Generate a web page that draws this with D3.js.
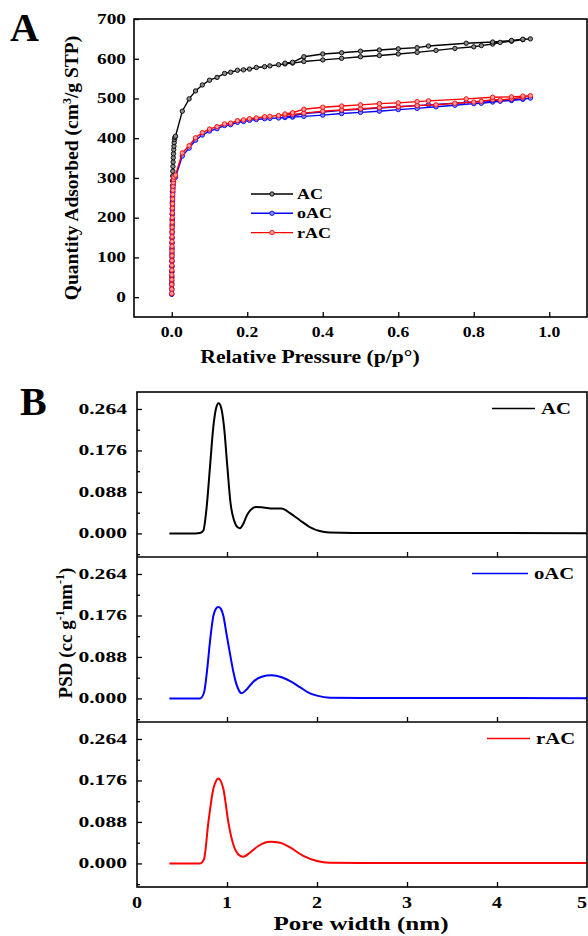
<!DOCTYPE html>
<html>
<head>
<meta charset="utf-8">
<script src="https://cdn.jsdelivr.net/npm/d3@7"></script>
<style>
  body { margin: 0; background: #fff; }
  text { font-family: "Liberation Serif", "Times New Roman", serif; font-weight: bold; fill: #000; }
</style>
</head>
<body>
<div id="chart"></div>
<script>
// ---- A: N2 isotherms, [relative pressure, quantity adsorbed] ----
var acLow = [[0.0000,8],[0.0001,21],[0.0002,35],[0.0002,49],[0.0003,63],[0.0004,78],[0.0004,92],[0.0005,107],[0.0006,121],
  [0.0007,136],[0.0008,150],[0.0009,165],[0.0010,180],[0.0011,194],[0.0012,209],[0.0013,223],[0.0014,238],[0.0016,252],
  [0.0018,266],[0.0020,280],[0.0022,293],[0.0025,305],[0.0028,317],[0.0032,329],[0.0036,340],[0.0041,351],[0.0046,361],
  [0.0052,371],[0.0058,380],[0.0065,389],[0.0073,397],[0.0082,402]];
var acAds = [[0.010,405],[0.028,468],[0.046,499],[0.063,519],[0.081,534],[0.100,546],[0.120,553],[0.140,563],[0.156,566],
  [0.174,571],[0.190,572],[0.206,574],[0.224,578],[0.246,580],[0.260,582],[0.283,585],[0.300,587],[0.320,589],[0.350,593],
  [0.400,597],[0.450,601],[0.500,605],[0.550,608],[0.600,612],[0.650,616],[0.700,621],[0.750,626],[0.800,630],[0.820,633],
  [0.850,637],[0.870,641],[0.900,644],[0.930,648],[0.950,650]];
var acDes = [[0.930,649],[0.900,646],[0.850,642],[0.780,639],[0.680,632],[0.650,628],[0.600,625],[0.550,622],[0.500,619],
  [0.450,615],[0.400,612],[0.350,605],[0.320,591],[0.300,589]];

var oacLow = [[0.0000,7],[0.0001,18],[0.0001,30],[0.0002,41],[0.0003,53],[0.0003,65],[0.0004,77],[0.0005,89],[0.0006,100],
  [0.0007,112],[0.0007,124],[0.0008,136],[0.0009,148],[0.0010,160],[0.0011,172],[0.0012,184],[0.0014,196],[0.0016,208],
  [0.0018,219],[0.0020,231],[0.0023,242],[0.0026,253],[0.0030,264],[0.0034,274],[0.0040,283],[0.0047,291],[0.0056,297]];
var oacAds = [[0.010,302],[0.028,355],[0.046,375],[0.063,395],[0.081,408],[0.100,418],[0.120,424],[0.140,432],[0.156,434],
  [0.174,440],[0.190,442],[0.206,445],[0.224,447],[0.246,449],[0.260,450],[0.283,451],[0.300,452],[0.320,453],[0.350,455],
  [0.400,458],[0.450,462],[0.500,465],[0.550,468],[0.600,472],[0.650,475],[0.700,479],[0.750,483],[0.800,487],[0.820,488],
  [0.850,491],[0.870,493],[0.900,495],[0.930,498],[0.950,501]];
var oacDes = [[0.930,499],[0.900,497],[0.850,495],[0.780,490],[0.680,484],[0.650,482],[0.600,479],[0.550,476],[0.500,473],
  [0.450,470],[0.400,466],[0.350,462],[0.320,456],[0.300,454]];

var racLow = [[0.0000,9],[0.0001,20],[0.0001,32],[0.0002,44],[0.0003,56],[0.0003,68],[0.0004,80],[0.0005,92],[0.0006,104],
  [0.0007,116],[0.0007,128],[0.0008,140],[0.0009,152],[0.0010,164],[0.0011,176],[0.0012,188],[0.0014,200],[0.0016,212],
  [0.0018,224],[0.0020,235],[0.0023,247],[0.0026,258],[0.0030,269],[0.0034,279],[0.0040,288],[0.0047,296],[0.0056,302]];
var racAds = [[0.010,307],[0.028,363],[0.046,381],[0.063,401],[0.081,414],[0.100,423],[0.120,429],[0.140,436],[0.156,438],
  [0.174,444],[0.190,446],[0.206,449],[0.224,451],[0.246,454],[0.260,455],[0.283,457],[0.300,459],[0.320,460],[0.350,463],
  [0.400,468],[0.450,471],[0.500,474],[0.550,477],[0.600,479],[0.650,482],[0.700,484],[0.750,488],[0.800,491],[0.820,493],
  [0.850,497],[0.870,496],[0.900,499],[0.930,503],[0.950,507]];
var racDes = [[0.930,506],[0.900,504],[0.850,503],[0.780,499],[0.680,494],[0.650,492],[0.600,489],[0.550,487],[0.500,484],
  [0.450,481],[0.400,478],[0.350,473],[0.320,464],[0.300,461]];

var isoNames = ['AC', 'oAC', 'rAC'];
var isoXTicks = [0, 0.2, 0.4, 0.6, 0.8, 1.0];
var isoYTicks = [0, 100, 200, 300, 400, 500, 600, 700];

// ---- B: pore size distribution, [pore width (nm), PSD] ----
var acPSD = [[0.36,0],[0.50,0],[0.65,0],[0.70,0.001],[0.737,0.006],[0.774,0.056],[0.811,0.141],[0.848,0.226],[0.878,0.265],
  [0.907,0.276],[0.937,0.265],[0.967,0.226],[1.004,0.141],[1.04,0.063],[1.078,0.028],[1.115,0.0135],[1.144,0.011],
  [1.18,0.02],[1.22,0.038],[1.263,0.050],[1.322,0.056],[1.404,0.055],[1.515,0.053],[1.607,0.053],[1.70,0.043],
  [1.81,0.028],[1.92,0.0135],[2.03,0.005],[2.14,0.002],[2.4,0.001],[3.0,0.001],[4.0,0.001],[5.0,0.0005]];
var oacPSD = [[0.36,0],[0.50,0],[0.70,0],[0.744,0.012],[0.78,0.062],[0.81,0.119],[0.848,0.175],[0.876,0.19],[0.904,0.194],
  [0.932,0.19],[0.96,0.175],[0.996,0.135],[1.033,0.095],[1.07,0.057],[1.10,0.033],[1.13,0.018],[1.163,0.011],[1.218,0.019],
  [1.29,0.035],[1.385,0.046],[1.496,0.049],[1.607,0.045],[1.718,0.035],[1.81,0.024],[1.90,0.013],[2.0,0.006],
  [2.144,0.0015],[2.5,0.001],[3.5,0.001],[5.0,0.0005]];
var racPSD = [[0.36,0],[0.50,0],[0.70,0],[0.744,0.0085],[0.793,0.087],[0.848,0.158],[0.876,0.174],[0.904,0.180],
  [0.932,0.174],[0.96,0.158],[1.015,0.087],[1.07,0.040],[1.126,0.019],[1.18,0.014],[1.256,0.023],[1.348,0.037],
  [1.478,0.046],[1.59,0.044],[1.70,0.034],[1.848,0.016],[2.0,0.005],[2.14,0.0015],[2.5,0.001],[3.5,0.001],[5.0,0.0008]];

var psdXTicks = [0, 1, 2, 3, 4, 5];
var psdYTicks = [0, 0.088, 0.176, 0.264];
var psdYMinor = [-0.044, 0.044, 0.132, 0.220];

// ---- drawing ----
var svg = d3.select('#chart').append('svg')
    .attr('width', 588)
    .attr('height', 936);

// text squeezed/stretched horizontally like the figure
function label(parent, x, y, s, size, sx, anchor) {
  return parent.append('text')
      .attr('transform', 'translate(' + x + ',' + y + ') scale(' + sx + ',1)')
      .attr('text-anchor', anchor)
      .style('font-size', size + 'px')
      .text(s);
}

function tickStyle(g) {
  g.select('.domain').remove();
  g.selectAll('line').attr('stroke', '#000').attr('stroke-width', 1.3);
}

// ===== panel A =====
var aL = 134, aR = 587, aT = 19, aB = 317;
var ax = d3.scaleLinear().domain([-0.1, 1.1]).range([aL, aR]);
var ay = d3.scaleLinear().domain([-50, 700]).range([aB, aT]);

svg.append('g').attr('transform', 'translate(0,' + aB + ')')
    .call(d3.axisBottom(ax).tickValues(isoXTicks).tickSize(-5).tickSizeOuter(0).tickFormat(''))
    .call(tickStyle);
svg.append('g').attr('transform', 'translate(' + aL + ',0)')
    .call(d3.axisLeft(ay).tickValues(isoYTicks).tickSize(-5).tickSizeOuter(0).tickFormat(''))
    .call(tickStyle);

isoXTicks.forEach(function(v) { label(svg, ax(v), 337, d3.format('.1f')(v), 14, 1.26, 'middle'); });
isoYTicks.forEach(function(v) { label(svg, 126, ay(v) + 4.8, String(v), 14, 1.38, 'end'); });

var isoSeries = [
  { name: isoNames[0], color: '#000', fill: '#8a8a8a', pts: acLow.concat(acAds, acDes) },
  { name: isoNames[1], color: '#0000ff', fill: '#8c8cff', pts: oacLow.concat(oacAds, oacDes) },
  { name: isoNames[2], color: '#ff0000', fill: '#ffa0a0', pts: racLow.concat(racAds, racDes) }
];

var isoLine = d3.line().x(function(d) { return ax(d[0]); }).y(function(d) { return ay(d[1]); });

isoSeries.forEach(function(s) {
  var g = svg.append('g');
  g.append('path').attr('d', isoLine(s.pts))
      .attr('fill', 'none').attr('stroke', s.color).attr('stroke-width', 1.4);
  g.selectAll('circle').data(s.pts).enter().append('circle')
      .attr('cx', function(d) { return ax(d[0]); })
      .attr('cy', function(d) { return ay(d[1]); })
      .attr('r', 2.2)
      .attr('fill', s.fill).attr('stroke', s.color).attr('stroke-width', 0.9);
});

svg.append('rect').attr('x', aL).attr('y', aT).attr('width', aR - aL).attr('height', aB - aT)
    .attr('fill', 'none').attr('stroke', '#000').attr('stroke-width', 1.6);

// legend A
isoSeries.forEach(function(s, i) {
  var ly = 194 + i * 19.3;
  svg.append('line').attr('x1', 251).attr('x2', 293).attr('y1', ly).attr('y2', ly)
      .attr('stroke', s.color).attr('stroke-width', 1.4);
  svg.append('circle').attr('cx', 272).attr('cy', ly).attr('r', 2.2)
      .attr('fill', s.fill).attr('stroke', s.color).attr('stroke-width', 0.9);
  label(svg, 297, ly + 5, s.name, 15, 1.2, 'start');
});

var yTitleA = svg.append('text')
    .attr('transform', 'translate(78,168) rotate(-90)')
    .attr('text-anchor', 'middle')
    .style('font-size', '19.5px');
yTitleA.append('tspan').text('Quantity Adsorbed (cm');
yTitleA.append('tspan').attr('dy', -7).style('font-size', '12px').text('3');
yTitleA.append('tspan').attr('dy', 7).text('/g STP)');

label(svg, 310, 363, 'Relative Pressure (p/p\u00B0)', 19, 1.14, 'middle');
label(svg, 10, 41, 'A', 40, 1, 'start');

// ===== panel B =====
var bL = 137, bR = 587, bT = 392, bH = 165;
var bx = d3.scaleLinear().domain([0, 5]).range([bL, bR]);

var psdSeries = [
  { name: isoNames[0], color: '#000', pts: acPSD, legX: 492, legEnd: 535 },
  { name: isoNames[1], color: '#0000ff', pts: oacPSD, legX: 472, legEnd: 528 },
  { name: isoNames[2], color: '#ff0000', pts: racPSD, legX: 487, legEnd: 530 }
];

psdSeries.forEach(function(s, i) {
  var top = bT + i * bH;
  var by = d3.scaleLinear().domain([-0.05, 0.30]).range([top + bH, top]);
  var g = svg.append('g');

  g.append('g').attr('transform', 'translate(0,' + (top + bH) + ')')
      .call(d3.axisBottom(bx).tickValues([1, 2, 3, 4]).tickSize(-5).tickSizeOuter(0).tickFormat(''))
      .call(tickStyle);
  g.append('g').attr('transform', 'translate(' + bL + ',0)')
      .call(d3.axisLeft(by).tickValues(psdYTicks).tickSize(-5).tickSizeOuter(0).tickFormat(''))
      .call(tickStyle);
  g.append('g').attr('transform', 'translate(' + bL + ',0)')
      .call(d3.axisLeft(by).tickValues(psdYMinor).tickSize(-3).tickSizeOuter(0).tickFormat(''))
      .call(tickStyle);

  psdYTicks.forEach(function(v) { label(g, 127, by(v) + 5, d3.format('.3f')(v), 15, 1.44, 'end'); });

  var line = d3.line().curve(d3.curveMonotoneX)
      .x(function(d) { return bx(d[0]); })
      .y(function(d) { return by(d[1]); });
  g.append('path').attr('d', line(s.pts))
      .attr('fill', 'none').attr('stroke', s.color).attr('stroke-width', 2);

  var ly = top + 16.5;
  g.append('line').attr('x1', s.legX).attr('x2', s.legEnd).attr('y1', ly).attr('y2', ly)
      .attr('stroke', s.color).attr('stroke-width', 1.6);
  label(g, s.legEnd + 6, ly + 5.7, s.name, 17, 1.22, 'start');

  if (i > 0) {
    g.append('line').attr('x1', bL).attr('x2', bR).attr('y1', top).attr('y2', top)
        .attr('stroke', '#000').attr('stroke-width', 1.6);
  }
});

svg.append('rect').attr('x', bL).attr('y', bT).attr('width', bR - bL).attr('height', bH * 3)
    .attr('fill', 'none').attr('stroke', '#000').attr('stroke-width', 1.6);

// last label sits on the page edge; keep it fully visible
psdXTicks.forEach(function(v, i) {
  var last = i === psdXTicks.length - 1;
  label(svg, last ? 587 : bx(v), 908, String(v), 16, 1.25, last ? 'end' : 'middle');
});

var yTitleB = svg.append('text')
    .attr('transform', 'translate(72,633) rotate(-90)')
    .attr('text-anchor', 'middle')
    .style('font-size', '19px');
yTitleB.append('tspan').text('PSD (cc g');
yTitleB.append('tspan').attr('dy', -8).style('font-size', '12px').text('-1');
yTitleB.append('tspan').attr('dy', 8).text('nm');
yTitleB.append('tspan').attr('dy', -8).style('font-size', '12px').text('-1');
yTitleB.append('tspan').attr('dy', 8).text(')');

label(svg, 361, 930, 'Pore width (nm)', 19, 1.32, 'middle');
label(svg, 20, 415, 'B', 40, 1, 'start');
</script>
</body>
</html>
